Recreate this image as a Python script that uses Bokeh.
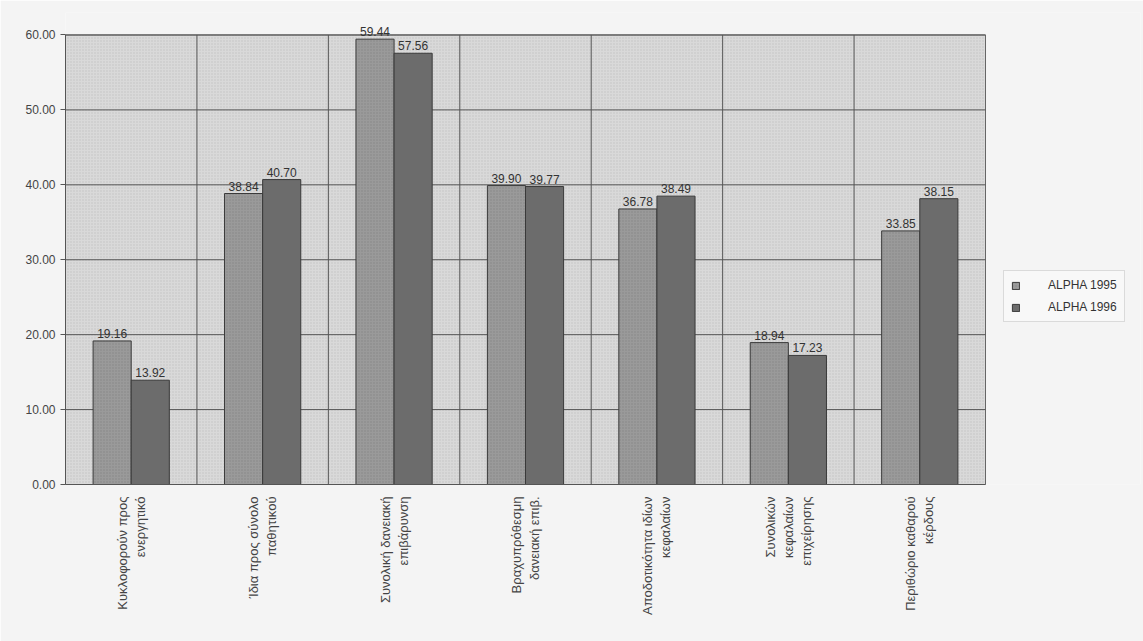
import math
from bokeh.plotting import figure
from bokeh.models import (ColumnDataSource, FixedTicker, NumeralTickFormatter,
                          Legend, LegendItem, LabelSet)
from bokeh.core.properties import value
from bokeh.embed import file_html
from bokeh.resources import INLINE

categories = [
    "Κυκλοφορούν προς\nενεργητικό",
    "Ίδια προς σύνολο\nπαθητικού",
    "Συνολική δανειακή\nεπιβάρυνση",
    "Βραχυπρόθεσμη\nδανειακή επιβ.",
    "Αποδοτικότητα ιδίων\nκεφαλαίων",
    "Συνολικών\nκεφαλαίων\nεπιχείρησης",
    "Περιθώριο καθαρού\nκέρδους",
]
alpha_1995 = [19.16, 38.84, 59.44, 39.90, 36.78, 18.94, 33.85]
alpha_1996 = [13.92, 40.70, 57.56, 39.77, 38.49, 17.23, 38.15]
series_names = ["ALPHA 1995", "ALPHA 1996"]
y_ticks = [0, 10, 20, 30, 40, 50, 60]

n = len(categories)
centers = [i + 0.5 for i in range(n)]
boundaries = list(range(1, n))
off = 0.145
bw = 0.29
ytop = y_ticks[-1]

src = ColumnDataSource(dict(
    x1=[c - off for c in centers], x2=[c + off for c in centers],
    v1=alpha_1995, v2=alpha_1996,
    l1=[f"{v:.2f}" for v in alpha_1995], l2=[f"{v:.2f}" for v in alpha_1996],
))

# frame spans 65..1140 px; 7 categories occupy 65..985 px
p = figure(width=1143, height=641, output_backend="svg", toolbar_location=None,
           x_range=(0, n * 1075 / 920), y_range=(0, 63),
           min_border_left=65, min_border_right=3, min_border_top=12, min_border_bottom=157)
p.background_fill_color = "#f4f4f4"
p.border_fill_color = "#f4f4f4"
p.outline_line_color = None
p.grid.visible = False

# plot area background (0..60)
p.quad(left=[0], right=[n], bottom=[0], top=[ytop], fill_color="#d9d9d9",
       line_color="#666666", line_width=1, hatch_pattern="dot", hatch_color="#c2c2c2",
       hatch_scale=3)
# horizontal grid lines
p.segment(x0=[0] * len(y_ticks), x1=[n] * len(y_ticks), y0=y_ticks, y1=y_ticks,
          line_color="#555555", line_width=1)
# vertical separators between categories
p.segment(x0=boundaries, x1=boundaries, y0=[0] * len(boundaries), y1=[ytop] * len(boundaries),
          line_color="#555555", line_width=1)

r1 = p.vbar(x="x1", top="v1", width=bw, source=src, fill_color="#9a9a9a",
            line_color="#3a3a3a", line_width=1, hatch_pattern="dot",
            hatch_color="#868686", hatch_scale=3)
r2 = p.vbar(x="x2", top="v2", width=bw, source=src, fill_color="#6c6c6c",
            line_color="#3a3a3a", line_width=1)

for xs, ys, ls in (("x1", "v1", "l1"), ("x2", "v2", "l2")):
    p.add_layout(LabelSet(x=xs, y=ys, text=ls, source=src, text_align="center",
                          text_baseline="bottom", y_offset=3,
                          text_font_size=value("12px"),
                          text_font=value("Liberation Sans"), text_color="#333333"))

# y axis
p.yaxis.ticker = FixedTicker(ticks=y_ticks)
p.yaxis.bounds = (0, ytop)
p.yaxis.formatter = NumeralTickFormatter(format="0.00")
p.yaxis.major_label_text_font = "Liberation Sans"
p.yaxis.major_label_text_font_size = "12px"
p.yaxis.major_label_text_color = "#444444"
p.yaxis.axis_line_color = "#555555"
p.yaxis.major_tick_line_color = "#555555"
p.yaxis.major_tick_out = 5
p.yaxis.major_tick_in = 0
p.yaxis.minor_tick_line_color = None

# x axis
p.xaxis.ticker = FixedTicker(ticks=centers)
p.xaxis.bounds = (0, n)
p.xaxis.major_label_overrides = {c: lab for c, lab in zip(centers, categories)}
p.xaxis.major_label_orientation = math.pi / 2
p.xaxis.major_label_text_font = "Liberation Sans"
p.xaxis.major_label_text_font_size = "13px"
p.xaxis.major_label_text_color = "#444444"
p.xaxis.major_label_standoff = 6
p.xaxis.axis_line_color = "#555555"
p.xaxis.major_tick_line_color = None
p.xaxis.minor_tick_line_color = None

legend = Legend(items=[LegendItem(label=series_names[0], renderers=[r1]),
                       LegendItem(label=series_names[1], renderers=[r2])],
                location=(938, 162), orientation="vertical",
                label_text_font="Liberation Sans", label_text_font_size="12px",
                label_text_color="#333333", glyph_width=9, glyph_height=9,
                label_standoff=28, spacing=8, padding=7, margin=0,
                border_line_color="#bbbbbb", background_fill_color="#f8f8f8")
p.add_layout(legend)

open("out.html", "w").write(file_html(p, INLINE))
